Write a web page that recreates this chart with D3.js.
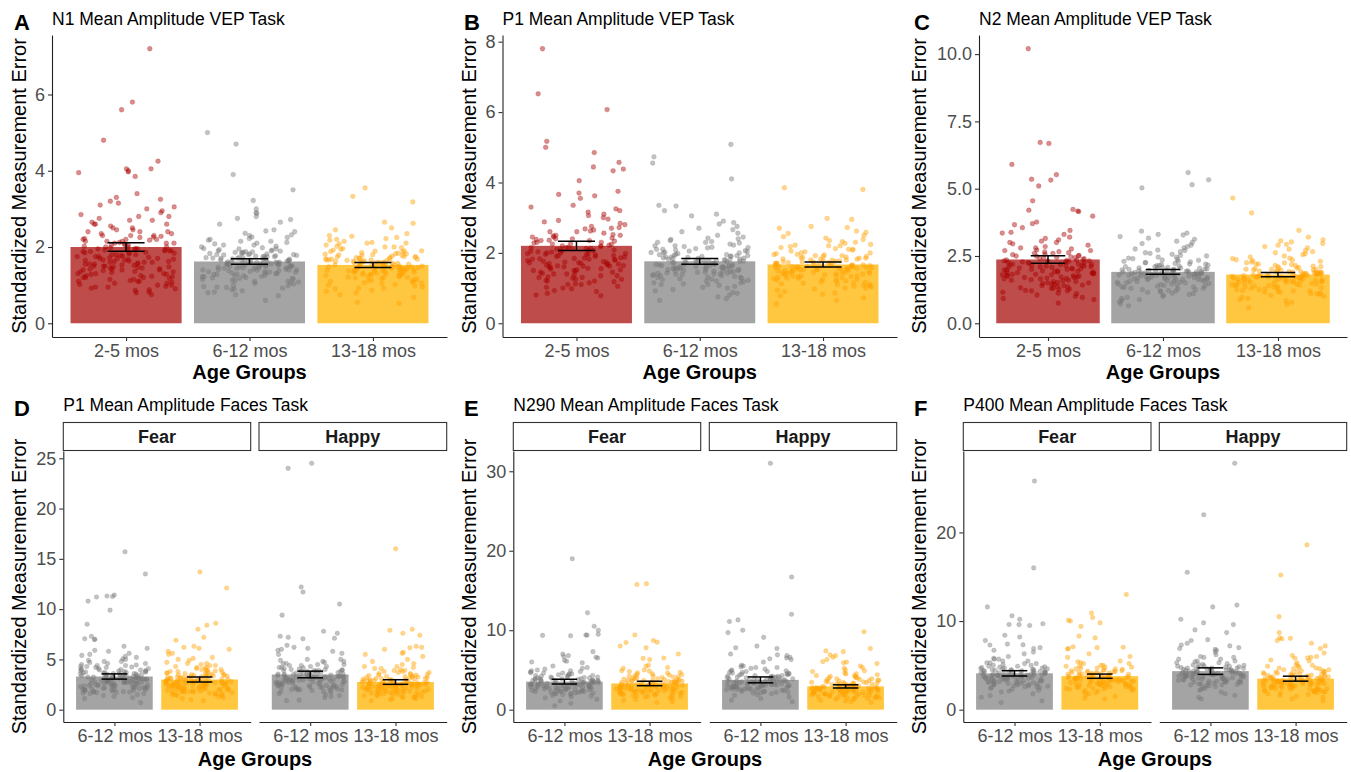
<!DOCTYPE html>
<html><head><meta charset="utf-8">
<script src="https://cdn.jsdelivr.net/npm/d3@7"></script>
<style>body{margin:0;background:#fff}text{font-family:"Liberation Sans",Arial,sans-serif}</style>
</head><body>
<script>
// ---------------- DATA ----------------
const vepCats = ["2-5 mos","6-12 mos","13-18 mos"];
const faceCats = ["6-12 mos","13-18 mos"];
const emotions = ["Fear","Happy"];

const aTicks = [0,2,4,6];
const bTicks = [0,2,4,6,8];
const cTicks = [0,2.5,5,7.5,10];
const dTicks = [0,5,10,15,20,25];
const eTicks = [0,10,20,30];
const fTicks = [0,10,20];

// means and standard errors (bar height, error bar half-width)
const aMeans = [2.0,1.62,1.53];   const aSE = [0.11,0.07,0.065];
const bMeans = [2.2,1.76,1.67];   const bSE = [0.13,0.08,0.07];
const cMeans = [2.37,1.91,1.81];  const cSE = [0.14,0.085,0.08];
const dMeans = [[3.3,3.0],[3.5,2.75]];   const dSE = [[0.26,0.25],[0.33,0.23]];
const eMeans = [[3.53,3.3],[3.75,2.93]]; const eSE = [[0.3,0.28],[0.37,0.2]];
const fMeans = [[4.1,3.78],[4.35,3.5]];  const fSE = [[0.3,0.24],[0.37,0.28]];

// individual points
const a25 = [7.2,5.8,5.6,4.8,4.25,4.05,4.05,4.0,3.97,3.95,3.85,3.4,3.3,3.25,3.2,3.15,3.1,3.05,3.0,2.95,2.9,2.85,2.8,2.8,2.75,2.7,2.65,2.6,2.6,2.55,2.5,2.5,2.45,2.45,2.4,2.4,2.35,2.35,2.3,2.3,2.28,2.25,2.22,2.2,2.2,2.18,2.15,2.12,2.1,2.1,2.08,2.05,2.05,2.02,2.0,2.0,1.98,1.96,1.95,1.93,1.92,1.9,1.9,1.88,1.86,1.85,1.84,1.82,1.8,1.8,1.78,1.76,1.75,1.73,1.72,1.7,1.7,1.68,1.66,1.65,1.63,1.62,1.6,1.6,1.58,1.56,1.55,1.53,1.52,1.5,1.5,1.48,1.46,1.45,1.43,1.42,1.4,1.4,1.38,1.36,1.35,1.33,1.3,1.3,1.28,1.25,1.23,1.2,1.2,1.18,1.15,1.12,1.1,1.1,1.08,1.05,1.02,1.0,0.97,0.95,0.92,0.9,0.86,0.82,0.8,0.75,1.95,2.15,1.75,1.55,
  2.1,1.9,1.7,1.5,1.3,1.1,2.3,2.0,1.8,1.6,1.4,1.2,1.0,2.2,1.95,1.85,1.65,1.45,1.25,1.05,2.4,2.15,1.75,1.55,1.35,1.15,0.95,2.05,1.88,1.68,1.48,1.28,2.26,2.6,2.7,1.92,1.62,1.42,1.22,0.88];
const a612 = [5.0,4.7,3.9,3.5,3.22,3.0,2.9,2.88,2.8,2.75,2.72,2.65,2.6,2.45,2.42,2.4,2.36,2.32,2.3,2.26,2.22,2.2,2.18,2.15,2.12,2.1,2.08,2.05,2.02,2.0,1.98,1.96,1.95,1.93,1.92,1.9,1.89,1.88,1.86,1.85,1.84,1.83,1.82,1.8,1.8,1.79,1.78,1.76,1.75,1.74,1.73,1.72,1.71,1.7,1.7,1.68,1.67,1.66,1.65,1.64,1.63,1.62,1.61,1.6,1.6,1.58,1.57,1.56,1.55,1.54,1.53,1.52,1.51,1.5,1.5,1.48,1.47,1.46,1.45,1.44,1.42,1.41,1.4,1.4,1.38,1.36,1.35,1.34,1.32,1.3,1.3,1.28,1.26,1.25,1.23,1.22,1.2,1.18,1.16,1.15,1.13,1.12,1.1,1.08,1.06,1.05,1.03,1.0,0.98,0.96,0.94,0.92,0.9,0.88,0.85,0.82,0.8,0.75,0.72,0.6,1.87,1.77,1.69,1.59,1.49,1.39,1.29,1.19,
  1.62,1.48,1.72,1.35,1.55,1.82,1.28,1.66,1.44,1.9,1.58,1.38,1.76,1.52,1.22,1.68,1.46,2.05,1.34,1.6,1.8,1.42,1.56,1.7,1.25,1.95,1.5,1.64,1.32,1.74,1.1,2.15,1.4,1.86,1.54,1.18,2.25,1.45,1.66,0.95];
const a1318 = [3.55,3.33,3.18,2.65,2.62,2.5,2.45,2.35,2.3,2.28,2.25,2.22,2.2,2.18,2.15,2.12,2.1,2.08,2.05,2.02,2.0,1.98,1.96,1.94,1.92,1.9,1.88,1.87,1.85,1.84,1.82,1.8,1.79,1.78,1.76,1.75,1.74,1.72,1.71,1.7,1.69,1.68,1.66,1.65,1.64,1.63,1.62,1.61,1.6,1.59,1.58,1.57,1.56,1.55,1.54,1.53,1.52,1.51,1.5,1.49,1.48,1.47,1.46,1.45,1.44,1.43,1.42,1.41,1.4,1.39,1.38,1.36,1.35,1.34,1.32,1.31,1.3,1.28,1.27,1.25,1.24,1.22,1.2,1.19,1.17,1.15,1.13,1.12,1.1,1.08,1.06,1.04,1.02,1.0,0.98,0.95,0.92,0.9,0.87,0.84,0.8,0.75,0.68,0.55,0.52,1.66,1.58,1.48,1.37,1.29,1.21,1.73,1.81,1.89,
  1.52,1.44,1.62,1.38,1.56,1.72,1.3,1.48,1.66,1.4,1.82,1.35,1.58,1.24,1.5,1.46,1.68,1.2,1.9,1.42,1.55,1.32,1.6,1.75,1.15,1.47,2.0,1.36,1.64,1.28,1.53,1.1,1.78,1.43,2.1,1.05,1.57,1.34,1.69,0.92];

const b25 = [7.8,6.52,6.07,5.17,5.0,4.85,4.57,4.44,4.38,4.33,4.05,3.75,3.7,3.66,3.62,3.55,3.35,3.3,3.25,3.2,3.16,3.1,3.06,3.0,2.96,2.92,2.88,2.84,2.8,2.75,2.72,2.68,2.65,2.62,2.6,2.56,2.52,2.5,2.48,2.45,2.42,2.4,2.38,2.36,2.33,2.3,2.28,2.26,2.24,2.22,2.2,2.18,2.16,2.14,2.12,2.1,2.08,2.06,2.04,2.02,2.0,1.98,1.96,1.94,1.92,1.9,1.88,1.86,1.84,1.82,1.8,1.78,1.76,1.74,1.72,1.7,1.68,1.66,1.64,1.62,1.6,1.58,1.56,1.54,1.52,1.5,1.48,1.45,1.42,1.4,1.37,1.35,1.32,1.3,1.28,1.25,1.22,1.2,1.18,1.15,1.12,1.1,1.05,1.02,0.98,0.93,0.9,0.85,0.8,0.78,2.03,1.97,2.13,1.83,1.73,2.35,1.63,
  2.1,1.9,2.3,1.7,2.5,1.5,2.0,1.8,2.2,1.6,1.4,2.4,1.3,2.05,1.85,2.15,1.65,1.95,1.75,1.2,2.6,1.55,2.25,1.45,1.1,2.35,1.92,1.72,2.08,1.35,2.7,1.62,1.98,1.25,2.45,1.52,2.12,1.0,1.82,1.68];
const b612 = [5.08,4.73,4.55,4.1,3.35,3.33,3.2,3.1,3.05,2.9,2.86,2.82,2.75,2.7,2.66,2.6,2.56,2.5,2.45,2.42,2.4,2.38,2.35,2.32,2.3,2.28,2.25,2.22,2.2,2.18,2.16,2.14,2.12,2.1,2.08,2.06,2.04,2.02,2.0,1.98,1.96,1.95,1.93,1.92,1.9,1.88,1.87,1.85,1.84,1.82,1.81,1.8,1.78,1.77,1.76,1.75,1.73,1.72,1.7,1.69,1.68,1.66,1.65,1.64,1.62,1.61,1.6,1.58,1.57,1.56,1.55,1.53,1.52,1.5,1.49,1.48,1.46,1.45,1.43,1.42,1.4,1.38,1.36,1.35,1.33,1.31,1.3,1.28,1.26,1.24,1.22,1.2,1.18,1.15,1.12,1.1,1.08,1.05,1.02,1.0,0.96,0.92,0.88,0.85,0.8,0.75,0.7,0.65,1.91,1.79,1.67,1.59,1.47,1.39,2.01,1.86,
  1.75,1.6,1.9,1.5,1.82,1.68,2.0,1.45,1.72,1.55,2.1,1.4,1.78,1.62,1.95,1.35,1.84,1.58,2.2,1.3,1.7,1.52,1.88,1.25,2.05,1.64,1.42,1.8,1.2,1.74,2.3,1.48,1.66,1.15,1.92,1.56,1.38,2.15,1.1,1.76];
const b1318 = [3.85,3.8,2.98,2.95,2.75,2.72,2.7,2.62,2.58,2.55,2.5,2.46,2.42,2.38,2.35,2.32,2.3,2.27,2.24,2.22,2.2,2.18,2.15,2.12,2.1,2.08,2.05,2.03,2.0,1.98,1.96,1.94,1.92,1.9,1.88,1.86,1.85,1.83,1.82,1.8,1.78,1.77,1.75,1.74,1.72,1.71,1.7,1.68,1.67,1.66,1.64,1.63,1.62,1.6,1.59,1.58,1.57,1.56,1.55,1.54,1.52,1.51,1.5,1.49,1.48,1.46,1.45,1.44,1.42,1.41,1.4,1.38,1.37,1.35,1.34,1.32,1.3,1.28,1.27,1.25,1.23,1.22,1.2,1.18,1.16,1.14,1.12,1.1,1.08,1.06,1.03,1.0,0.97,0.94,0.9,0.86,0.82,0.78,0.72,0.65,0.55,1.69,1.61,1.53,1.43,1.79,1.87,1.33,
  1.65,1.5,1.8,1.42,1.72,1.58,1.9,1.36,1.62,1.48,2.0,1.3,1.7,1.55,1.85,1.25,1.6,1.45,2.1,1.2,1.76,1.52,1.68,1.15,1.95,1.4,1.64,1.34,2.2,1.1,1.74,1.56,1.44,1.82,1.05,1.66,1.28,1.92,1.0,1.6];

const c25 = [10.2,6.72,6.68,5.9,5.52,5.35,5.32,5.1,4.55,4.23,4.2,4.17,4.15,3.98,3.76,3.7,3.66,3.55,3.45,3.38,3.35,3.3,3.2,3.15,3.1,3.05,3.0,2.95,2.9,2.85,2.8,2.76,2.72,2.7,2.66,2.62,2.6,2.56,2.52,2.5,2.47,2.44,2.42,2.4,2.37,2.35,2.32,2.3,2.28,2.25,2.23,2.2,2.18,2.16,2.14,2.12,2.1,2.08,2.06,2.04,2.02,2.0,1.98,1.95,1.93,1.9,1.88,1.86,1.84,1.82,1.8,1.78,1.75,1.72,1.7,1.68,1.65,1.62,1.6,1.58,1.55,1.52,1.5,1.48,1.45,1.42,1.4,1.37,1.35,1.32,1.3,1.27,1.25,1.22,1.2,1.15,1.12,1.1,1.05,1.0,0.96,0.92,0.88,0.75,2.26,2.14,2.34,1.97,1.77,2.49,1.67,
  2.3,2.1,2.5,1.9,2.7,1.7,2.2,2.0,2.4,1.8,1.6,2.6,1.5,2.25,2.05,2.35,1.85,2.15,1.95,1.4,2.8,1.75,2.45,1.65,1.3,2.55,2.12,1.92,2.28,1.55,3.0,1.82,2.18,1.45,2.65,1.72,2.32,1.2,2.02,1.88];
const c612 = [5.6,5.33,5.15,5.03,3.42,3.35,3.3,3.28,3.22,3.16,3.12,3.05,3.0,2.96,2.9,2.85,2.8,2.76,2.72,2.7,2.66,2.62,2.6,2.56,2.52,2.5,2.46,2.42,2.4,2.37,2.34,2.3,2.28,2.25,2.22,2.2,2.18,2.16,2.14,2.12,2.1,2.08,2.06,2.04,2.02,2.0,1.98,1.96,1.95,1.93,1.92,1.9,1.88,1.87,1.85,1.84,1.82,1.8,1.78,1.77,1.75,1.73,1.72,1.7,1.68,1.66,1.65,1.63,1.62,1.6,1.58,1.56,1.55,1.53,1.5,1.48,1.46,1.44,1.42,1.4,1.38,1.35,1.33,1.3,1.28,1.25,1.22,1.2,1.18,1.15,1.12,1.1,1.07,1.04,1.0,0.96,0.92,0.88,0.85,0.8,0.72,0.65,1.89,1.81,1.71,1.61,1.97,2.07,1.91,1.79,
  1.9,1.75,2.05,1.65,1.98,1.82,2.15,1.58,1.88,1.7,2.25,1.52,1.94,1.78,2.1,1.46,2.0,1.72,2.35,1.4,1.85,1.66,2.02,1.35,2.2,1.8,1.56,1.96,1.3,1.9,2.45,1.62,1.84,1.25,2.08,1.7,1.5,2.3,1.2,1.92];
const c1318 = [4.65,4.1,3.45,3.2,3.1,3.06,3.02,2.96,2.93,2.9,2.85,2.8,2.75,2.7,2.66,2.62,2.58,2.55,2.5,2.46,2.42,2.4,2.36,2.33,2.3,2.27,2.24,2.2,2.18,2.15,2.12,2.1,2.08,2.05,2.03,2.0,1.98,1.96,1.94,1.92,1.9,1.88,1.87,1.85,1.84,1.82,1.8,1.79,1.77,1.76,1.74,1.72,1.71,1.7,1.68,1.67,1.65,1.64,1.62,1.6,1.59,1.57,1.55,1.54,1.52,1.5,1.48,1.46,1.44,1.42,1.4,1.38,1.36,1.34,1.32,1.3,1.28,1.25,1.22,1.2,1.18,1.15,1.12,1.1,1.07,1.04,1.0,0.96,0.92,0.88,0.84,0.78,0.7,0.58,1.83,1.73,1.63,1.53,1.93,2.01,1.86,1.78,
  1.8,1.65,1.95,1.55,1.88,1.72,2.05,1.48,1.78,1.6,2.15,1.42,1.84,1.68,2.0,1.36,1.9,1.62,2.25,1.3,1.75,1.56,1.92,1.25,2.1,1.7,1.46,1.86,1.2,1.8,2.35,1.52,1.74,1.15,1.98,1.6,1.4,2.2,1.1,1.82];

const dFear612 = [15.7,13.5,11.4,11.3,11.25,11.2,10.8,9.9,8.5,7.3,7.05,7.0,6.98,6.3,6.1,5.9,5.8,5.6,5.5,5.4,5.3,5.2,5.05,5.0,4.9,4.8,4.7,4.6,4.5,4.45,4.4,4.3,4.25,4.2,4.1,4.05,4.0,3.95,3.9,3.85,3.8,3.75,3.7,3.65,3.6,3.55,3.5,3.45,3.4,3.35,3.3,3.25,3.2,3.15,3.1,3.05,3.0,2.95,2.9,2.85,2.8,2.75,2.7,2.65,2.6,2.55,2.5,2.45,2.4,2.35,2.3,2.25,2.2,2.15,2.1,2.05,2.0,1.95,1.9,1.85,1.8,1.75,1.7,1.65,1.6,1.5,1.4,1.3,1.2,1.1,0.7,3.12,2.88,2.62,2.42,2.18,1.98,3.38,3.58,2.72,
  3.2,2.8,3.6,2.4,4.0,2.0,3.4,3.0,2.6,3.8,2.2,4.2,1.8,3.3,2.9,3.5,2.5,3.1,2.7,3.7,2.3,4.4,1.9,3.15,2.85,3.45,2.45,3.65,2.15,3.95,1.75,4.6,2.65,3.25,2.95,3.55,2.35,3.85,2.05,4.1,1.6,2.75,3.35,2.55,3.05,3.75,2.25,4.3,1.95,2.9,3.4,2.6,3.1,3.6,2.1,4.8,1.7,3.0,2.8,3.2];
const dFear1318 = [13.7,12.1,8.6,8.4,8.0,7.2,6.9,6.3,6.2,6.1,6.0,5.8,5.6,5.5,5.2,5.1,5.0,4.9,4.7,4.6,4.5,4.4,4.3,4.2,4.1,4.0,3.9,3.85,3.8,3.7,3.65,3.6,3.5,3.45,3.4,3.35,3.3,3.25,3.2,3.15,3.1,3.05,3.0,2.95,2.9,2.85,2.8,2.75,2.7,2.65,2.6,2.55,2.5,2.45,2.4,2.35,2.3,2.25,2.2,2.15,2.1,2.05,2.0,1.95,1.9,1.85,1.8,1.75,1.7,1.65,1.6,1.5,1.4,1.3,1.2,1.1,1.0,0.9,2.92,2.68,2.48,2.28,2.08,1.88,3.02,2.78,2.58,
  3.0,2.6,3.4,2.2,3.8,1.8,3.2,2.8,2.4,3.6,2.0,4.0,1.6,3.1,2.7,3.3,2.3,2.9,2.5,3.5,2.1,4.2,1.7,2.95,2.65,3.25,2.25,3.45,1.95,3.75,1.55,4.4,2.45,3.05,2.75,3.35,2.15,3.65,1.85,3.9,1.4,2.55,3.15,2.35,2.85,3.55,2.05,4.1,1.75,2.7,3.2,2.4,2.9,3.4,1.9,4.6,1.5,2.8,2.6,3.0];
const dHappy612 = [24.5,24.0,12.2,11.7,10.5,9.4,7.8,7.6,7.3,7.2,7.1,7.05,6.4,6.2,6.1,6.0,5.9,5.8,5.6,5.5,5.0,4.9,4.8,4.7,4.6,4.5,4.4,4.3,4.2,4.1,4.0,3.95,3.9,3.85,3.8,3.7,3.65,3.6,3.5,3.45,3.4,3.35,3.3,3.25,3.2,3.1,3.05,3.0,2.95,2.9,2.85,2.8,2.75,2.7,2.65,2.6,2.5,2.45,2.4,2.35,2.3,2.2,2.15,2.1,2.0,1.95,1.9,1.8,1.7,1.6,1.5,1.4,1.3,1.2,0.95,0.9,3.15,2.92,2.55,2.25,3.55,2.05,
  3.4,3.0,3.8,2.6,4.2,2.2,3.6,3.2,2.8,4.0,2.4,4.4,2.0,3.5,3.1,3.7,2.7,3.3,2.9,3.9,2.5,4.6,2.1,3.35,3.05,3.65,2.65,3.85,2.35,4.15,1.95,4.8,2.85,3.45,3.15,3.75,2.55,4.05,2.25,4.3,1.8,2.95,3.55,2.75,3.25,3.95,2.45,4.5,2.15,3.1,3.6,2.8,3.3,3.8,2.3,5.0,1.9,3.2,3.0,3.4];
const dHappy1318 = [16.0,8.0,7.9,7.6,7.4,6.3,6.2,6.15,6.0,5.7,5.6,5.5,5.3,5.0,4.8,4.6,4.5,4.3,4.2,4.1,4.0,3.9,3.8,3.7,3.6,3.5,3.45,3.4,3.3,3.25,3.2,3.1,3.05,3.0,2.95,2.9,2.85,2.8,2.75,2.7,2.65,2.6,2.55,2.5,2.45,2.4,2.35,2.3,2.25,2.2,2.15,2.1,2.05,2.0,1.95,1.9,1.85,1.8,1.75,1.7,1.6,1.5,1.4,1.3,1.2,1.1,1.0,0.9,2.62,2.42,2.22,2.02,1.82,2.72,2.32,1.62,
  2.7,2.3,3.1,1.9,3.5,1.5,2.9,2.5,2.1,3.3,1.7,3.7,1.3,2.8,2.4,3.0,2.0,2.6,2.2,3.2,1.8,3.9,1.4,2.65,2.35,2.95,1.95,3.15,1.65,3.45,1.25,4.1,2.15,2.75,2.45,3.05,1.85,3.35,1.55,3.6,1.1,2.25,2.85,2.05,2.55,3.25,1.75,3.8,1.45,2.4,2.9,2.1,2.6,3.1,1.6,4.3,1.2,2.5,2.3,2.7];

const eFear612 = [19.0,12.2,10.5,10.0,9.5,9.4,9.38,9.35,9.3,7.3,7.0,6.8,6.7,6.6,6.5,6.2,6.1,6.0,5.9,5.5,5.3,5.2,5.0,4.9,4.8,4.7,4.6,4.5,4.4,4.3,4.2,4.1,4.0,3.9,3.8,3.7,3.6,3.5,3.4,3.3,3.2,3.1,3.0,2.9,2.8,2.7,2.6,2.5,2.4,2.3,2.2,2.1,2.0,1.9,1.8,1.7,1.6,1.5,1.3,1.1,0.8,0.5,3.45,3.15,2.85,2.55,2.25,3.65,2.95,2.65,3.25,
  3.5,3.1,3.9,2.7,4.3,2.3,3.7,3.3,2.9,4.1,2.5,4.5,2.1,3.6,3.2,3.8,2.8,3.4,3.0,4.0,2.6,4.7,2.2,3.45,3.15,3.75,2.75,3.95,2.45,4.25,2.05,4.9,2.95,3.55,3.25,3.85,2.65,4.15,2.35,4.4,1.9,3.05,3.65,2.85,3.35,4.05,2.55,4.6,2.25,3.2,3.7,2.9,3.4,3.9,2.4,5.1,2.0,3.3,3.1,3.5];
const eFear1318 = [15.85,15.75,9.4,8.7,8.5,8.45,8.0,7.8,7.0,6.5,6.45,6.3,5.6,5.5,5.3,5.2,5.0,4.9,4.8,4.7,4.6,4.5,4.4,4.3,4.2,4.1,4.0,3.9,3.8,3.7,3.6,3.5,3.4,3.3,3.2,3.1,3.0,2.9,2.8,2.7,2.6,2.5,2.4,2.3,2.2,2.1,2.0,1.9,1.8,1.7,1.6,1.5,1.4,1.3,1.2,1.0,0.9,3.35,3.05,2.75,2.45,2.15,3.55,2.85,2.65,3.15,2.35,
  3.25,2.85,3.65,2.45,4.05,2.05,3.45,3.05,2.65,3.85,2.25,4.25,1.85,3.35,2.95,3.55,2.55,3.15,2.75,3.75,2.35,4.45,1.95,3.2,2.9,3.5,2.5,3.7,2.2,4.0,1.8,4.65,2.7,3.3,3.0,3.6,2.4,3.9,2.1,4.15,1.65,2.8,3.4,2.6,3.1,3.8,2.3,4.35,2.0,2.95,3.45,2.65,3.15,3.65,2.15,4.85,1.75,3.05,2.85,3.25];
const eHappy612 = [31.0,16.7,12.0,11.3,11.1,10.0,9.7,9.1,8.0,7.8,7.7,7.0,6.9,6.8,6.6,6.5,6.4,6.3,6.0,5.6,5.5,5.4,5.3,5.2,5.0,4.9,4.8,4.7,4.6,4.5,4.4,4.3,4.2,4.1,4.0,3.9,3.8,3.7,3.6,3.5,3.4,3.3,3.2,3.1,3.0,2.9,2.8,2.7,2.6,2.5,2.4,2.3,2.2,2.1,2.0,1.9,1.8,1.6,1.4,1.2,1.0,3.45,3.15,2.85,2.55,3.75,2.95,
  3.7,3.3,4.1,2.9,4.5,2.5,3.9,3.5,3.1,4.3,2.7,4.7,2.3,3.8,3.4,4.0,3.0,3.6,3.2,4.2,2.8,4.9,2.4,3.65,3.35,3.95,2.95,4.15,2.65,4.45,2.25,5.1,3.15,3.75,3.45,4.05,2.85,4.35,2.55,4.6,2.1,3.25,3.85,3.05,3.55,4.25,2.75,4.8,2.45,3.4,3.9,3.1,3.6,4.1,2.6,5.3,2.2,3.5,3.3,3.7];
const eHappy1318 = [9.8,7.7,7.4,7.3,6.9,6.8,6.6,6.3,6.05,6.0,5.9,5.8,5.5,5.3,5.2,5.0,4.9,4.8,4.6,4.5,4.4,4.3,4.2,4.1,4.0,3.9,3.8,3.7,3.6,3.5,3.4,3.3,3.2,3.1,3.0,2.95,2.9,2.85,2.8,2.7,2.6,2.5,2.4,2.3,2.2,2.1,2.0,1.9,1.8,1.7,1.6,1.5,1.4,1.3,1.2,1.1,1.0,0.9,2.75,2.55,2.35,2.15,1.95,2.65,2.45,2.25,3.05,1.75,
  2.9,2.5,3.3,2.1,3.7,1.7,3.1,2.7,2.3,3.5,1.9,3.9,1.5,3.0,2.6,3.2,2.2,2.8,2.4,3.4,2.0,4.1,1.6,2.85,2.55,3.15,2.15,3.35,1.85,3.65,1.45,4.3,2.35,2.95,2.65,3.25,2.05,3.55,1.75,3.8,1.3,2.45,3.05,2.25,2.75,3.45,1.95,4.0,1.65,2.6,3.1,2.3,2.8,3.3,1.8,4.5,1.4,2.7,2.5,2.9];

const fFear612 = [25.8,16.0,11.6,10.6,10.2,9.7,9.62,9.6,9.5,8.4,8.2,7.8,7.4,7.32,7.3,7.0,6.9,6.7,6.5,6.3,6.0,5.8,5.7,5.5,5.3,5.2,5.0,4.9,4.8,4.7,4.6,4.5,4.4,4.3,4.2,4.1,4.0,3.9,3.8,3.7,3.6,3.5,3.4,3.3,3.2,3.1,3.0,2.9,2.8,2.7,2.6,2.5,2.4,2.3,2.2,2.1,2.0,1.8,1.6,1.4,1.0,0.8,4.15,3.85,3.55,3.25,2.95,4.45,3.65,4.25,
  4.1,3.7,4.5,3.3,4.9,2.9,4.3,3.9,3.5,4.7,3.1,5.1,2.7,4.2,3.8,4.4,3.4,4.0,3.6,4.6,3.2,5.3,2.8,4.05,3.75,4.35,3.35,4.55,3.05,4.85,2.65,5.5,3.55,4.15,3.85,4.45,3.25,4.75,2.95,5.0,2.5,3.65,4.25,3.45,3.95,4.65,3.15,5.2,2.85,3.8,4.3,3.5,4.0,4.5,3.0,5.7,2.6,3.9,3.7,4.1];
const fFear1318 = [13.0,10.9,10.4,10.1,10.0,9.8,9.4,8.3,8.1,7.1,7.05,7.0,6.9,6.85,6.3,6.0,5.9,5.5,5.3,5.2,5.0,4.9,4.8,4.7,4.6,4.5,4.4,4.3,4.2,4.1,4.0,3.9,3.8,3.7,3.6,3.5,3.4,3.3,3.2,3.1,3.0,2.9,2.8,2.7,2.6,2.5,2.4,2.3,2.2,2.1,2.0,1.9,1.8,1.7,1.5,1.3,1.2,3.75,3.45,3.15,2.85,2.55,4.05,3.35,2.95,3.65,
  3.8,3.4,4.2,3.0,4.6,2.6,4.0,3.6,3.2,4.4,2.8,4.8,2.4,3.9,3.5,4.1,3.1,3.7,3.3,4.3,2.9,5.0,2.5,3.75,3.45,4.05,3.05,4.25,2.75,4.55,2.35,5.2,3.25,3.85,3.55,4.15,2.95,4.45,2.65,4.7,2.2,3.35,3.95,3.15,3.65,4.35,2.85,4.9,2.55,3.5,4.0,3.2,3.7,4.2,2.7,5.4,2.3,3.6,3.4,3.8];
const fHappy612 = [27.8,22.0,15.5,11.8,11.6,10.2,9.8,9.6,9.0,8.7,7.9,7.8,7.5,7.3,7.2,7.0,6.9,6.8,6.7,6.5,6.2,6.0,5.9,5.7,5.5,5.3,5.1,5.0,4.9,4.8,4.7,4.6,4.5,4.4,4.3,4.2,4.1,4.0,3.9,3.8,3.7,3.6,3.5,3.4,3.3,3.2,3.1,3.0,2.9,2.8,2.7,2.6,2.5,2.4,2.3,2.2,2.0,1.8,1.6,1.4,1.2,4.35,4.05,3.75,3.45,3.15,4.55,3.95,
  4.3,3.9,4.7,3.5,5.1,3.1,4.5,4.1,3.7,4.9,3.3,5.3,2.9,4.4,4.0,4.6,3.6,4.2,3.8,4.8,3.4,5.5,3.0,4.25,3.95,4.55,3.55,4.75,3.25,5.05,2.85,5.7,3.75,4.35,4.05,4.65,3.45,4.95,3.15,5.2,2.7,3.85,4.45,3.65,4.15,4.85,3.35,5.4,3.05,4.0,4.5,3.7,4.2,4.7,3.2,5.9,2.8,4.1,3.9,4.3];
const fHappy1318 = [18.6,15.2,10.5,8.7,8.1,8.05,8.0,7.8,7.5,7.2,6.9,6.4,6.1,6.0,5.9,5.85,5.8,5.6,5.5,5.3,5.0,4.9,4.8,4.7,4.6,4.5,4.4,4.3,4.2,4.1,4.0,3.9,3.8,3.7,3.6,3.5,3.4,3.3,3.2,3.1,3.0,2.9,2.8,2.7,2.6,2.5,2.4,2.3,2.2,2.1,2.0,1.9,1.8,1.7,1.6,1.5,1.4,1.2,1.0,3.25,2.95,2.65,2.35,2.05,3.55,2.85,3.05,
  3.5,3.1,3.9,2.7,4.3,2.3,3.7,3.3,2.9,4.1,2.5,4.5,2.1,3.6,3.2,3.8,2.8,3.4,3.0,4.0,2.6,4.7,2.2,3.45,3.15,3.75,2.75,3.95,2.45,4.25,2.05,4.9,2.95,3.55,3.25,3.85,2.65,4.15,2.35,4.4,1.9,3.05,3.65,2.85,3.35,4.05,2.55,4.6,2.25,3.2,3.7,2.9,3.4,3.9,2.4,5.1,2.0,3.3,3.1,3.5];

// ---------------- STYLE ----------------
const barFill = {"2-5 mos":"#BE4C4A","6-12 mos":"#A4A4A4","13-18 mos":"#FFC640"};
const ptFill  = {"2-5 mos":"#A80000","6-12 mos":"#777777","13-18 mos":"#FFA200"};
const FONT = '"Liberation Sans", Arial, Helvetica, sans-serif';

const W = 1351, H = 772;
const svg = d3.select("body").append("svg").attr("width", W).attr("height", H);

// deterministic jitter position in [0,1) from indices (layout only)
function jit(i, a, b) {
  const s = Math.sin((i + 1) * 12.9898 + a * 78.233 + b * 37.719) * 43758.5453;
  return s - Math.floor(s);
}

function panel(o) {
  const g = svg.append("g");
  const all = o.facets.flatMap(f => f.groups.flat());
  const ymax = d3.max(all);
  const y = d3.scaleLinear().domain([-0.05 * ymax, 1.05 * ymax]).range([o.bottom, o.top]);

  o.facets.forEach((f, fi) => {
    const x = d3.scalePoint().domain(o.cats).range([f.x0, f.x1]).padding(0.6);
    const step = x.step();
    const fg = g.append("g");
    fg.selectAll("rect.bar").data(o.cats).join("rect")
      .attr("x", c => x(c) - 0.45 * step)
      .attr("width", 0.9 * step)
      .attr("y", (c, i) => y(f.means[i]))
      .attr("height", (c, i) => y(0) - y(f.means[i]))
      .attr("fill", c => barFill[c]);
    o.cats.forEach((c, ci) => {
      const vals = f.groups[ci];
      fg.append("g").selectAll("circle").data(vals).join("circle")
        .attr("cx", (v, i) => x(c) + (jit(i, ci + o.seed, fi) - 0.5) * 0.8 * step)
        .attr("cy", v => y(v))
        .attr("r", o.r)
        .attr("fill", ptFill[c])
        .attr("fill-opacity", 0.45)
        .attr("stroke", ptFill[c])
        .attr("stroke-opacity", 0.3)
        .attr("stroke-width", 0.6);
    });
    const eg = fg.append("g").attr("stroke", "#000").attr("stroke-width", 1.5).attr("fill", "none");
    o.cats.forEach((c, ci) => {
      const m = f.means[ci], s = f.se[ci], cx = x(c), hw = 0.15 * step;
      eg.append("line").attr("x1", cx).attr("x2", cx).attr("y1", y(m - s)).attr("y2", y(m + s));
      eg.append("line").attr("x1", cx - hw).attr("x2", cx + hw).attr("y1", y(m - s)).attr("y2", y(m - s));
      eg.append("line").attr("x1", cx - hw).attr("x2", cx + hw).attr("y1", y(m + s)).attr("y2", y(m + s));
    });
    const ax = fg.append("g").attr("transform", `translate(0,${o.bottom})`)
      .call(d3.axisBottom(x).tickSize(4).tickSizeOuter(0).tickPadding(3.5));
    ax.select(".domain").attr("stroke", "#222").attr("stroke-width", 1.1);
    ax.selectAll(".tick line").attr("stroke", "#333").attr("stroke-width", 1.1);
    ax.selectAll(".tick text").attr("font-size", 18).attr("font-family", FONT).attr("fill", "#4D4D4D");
    if (f.strip) {
      fg.append("rect").attr("x", f.x0).attr("y", o.stripY).attr("width", f.x1 - f.x0).attr("height", o.stripH)
        .attr("fill", "#fff").attr("stroke", "#333").attr("stroke-width", 1.1);
      fg.append("text").attr("x", (f.x0 + f.x1) / 2).attr("y", o.stripY + o.stripH / 2 + 6.5)
        .attr("text-anchor", "middle").attr("font-weight", "bold").attr("font-size", 18)
        .attr("font-family", FONT).attr("fill", "#1A1A1A").text(f.strip);
    }
  });

  const x0 = o.facets[0].x0;
  const ay = g.append("g").attr("transform", `translate(${x0},0)`)
    .call(d3.axisLeft(y).tickValues(o.ticks).tickFormat(o.fmt).tickSize(4).tickSizeOuter(0).tickPadding(3));
  ay.select(".domain").attr("stroke", "#222").attr("stroke-width", 1.1);
  ay.selectAll(".tick line").attr("stroke", "#333").attr("stroke-width", 1.1);
  ay.selectAll(".tick text").attr("font-size", 18).attr("font-family", FONT).attr("fill", "#4D4D4D");

  const xEnd = o.facets[o.facets.length - 1].x1;
  g.append("text").attr("x", (x0 + xEnd) / 2).attr("y", o.xTitleY).attr("text-anchor", "middle")
    .attr("font-weight", "bold").attr("font-size", 20).attr("font-family", FONT).attr("fill", "#000").text("Age Groups");
  g.append("text").attr("transform", `translate(${o.yTitleX},${(o.top + o.bottom) / 2}) rotate(-90)`)
    .attr("text-anchor", "middle").attr("font-size", 20).attr("font-family", FONT).attr("fill", "#000")
    .text("Standardized Measurement Error");
  g.append("text").attr("x", o.titleX).attr("y", o.titleY).attr("font-size", 17.5).attr("font-family", FONT)
    .attr("fill", "#000").text(o.title);
  g.append("text").attr("x", o.letterX).attr("y", o.letterY).attr("font-size", 22).attr("font-weight", "bold")
    .attr("font-family", FONT).attr("fill", "#000").text(o.letter);
}

const fmtInt = d3.format("d");
const fmt1 = d3.format(".1f");
const topRow = {top: 35, bottom: 337, xTitleY: 379, titleY: 25, letterY: 30, r: 2.4};
const botRow = {top: 451, bottom: 722, xTitleY: 766, titleY: 410.5, letterY: 416, r: 2.3, stripY: 422.5, stripH: 28};

panel({...topRow, seed: 1, letter: "A", letterX: 14, title: "N1 Mean Amplitude VEP Task", titleX: 52, yTitleX: 26,
  cats: vepCats, ticks: aTicks, fmt: fmtInt,
  facets: [{x0: 52, x1: 447, groups: [a25, a612, a1318], means: aMeans, se: aSE}]});
panel({...topRow, seed: 5, letter: "B", letterX: 464, title: "P1 Mean Amplitude VEP Task", titleX: 502.5, yTitleX: 476,
  cats: vepCats, ticks: bTicks, fmt: fmtInt,
  facets: [{x0: 502.5, x1: 897, groups: [b25, b612, b1318], means: bMeans, se: bSE}]});
panel({...topRow, seed: 9, letter: "C", letterX: 914, title: "N2 Mean Amplitude VEP Task", titleX: 979, yTitleX: 926,
  cats: vepCats, ticks: cTicks, fmt: fmt1,
  facets: [{x0: 979, x1: 1347, groups: [c25, c612, c1318], means: cMeans, se: cSE}]});

panel({...botRow, seed: 13, letter: "D", letterX: 14, title: "P1 Mean Amplitude Faces Task", titleX: 63.3, yTitleX: 26,
  cats: faceCats, ticks: dTicks, fmt: fmtInt,
  facets: [
    {x0: 63.3, x1: 250.7, strip: emotions[0], groups: [dFear612, dFear1318], means: dMeans[0], se: dSE[0]},
    {x0: 259, x1: 446.7, strip: emotions[1], groups: [dHappy612, dHappy1318], means: dMeans[1], se: dSE[1]}]});
panel({...botRow, seed: 17, letter: "E", letterX: 464, title: "N290 Mean Amplitude Faces Task", titleX: 513.3, yTitleX: 476,
  cats: faceCats, ticks: eTicks, fmt: fmtInt,
  facets: [
    {x0: 513.3, x1: 700.7, strip: emotions[0], groups: [eFear612, eFear1318], means: eMeans[0], se: eSE[0]},
    {x0: 709.3, x1: 896.7, strip: emotions[1], groups: [eHappy612, eHappy1318], means: eMeans[1], se: eSE[1]}]});
panel({...botRow, seed: 21, letter: "F", letterX: 914, title: "P400 Mean Amplitude Faces Task", titleX: 963.3, yTitleX: 926,
  cats: faceCats, ticks: fTicks, fmt: fmtInt,
  facets: [
    {x0: 963.3, x1: 1151, strip: emotions[0], groups: [fFear612, fFear1318], means: fMeans[0], se: fSE[0]},
    {x0: 1159.3, x1: 1346.7, strip: emotions[1], groups: [fHappy612, fHappy1318], means: fMeans[1], se: fSE[1]}]});
</script>
</body></html>
